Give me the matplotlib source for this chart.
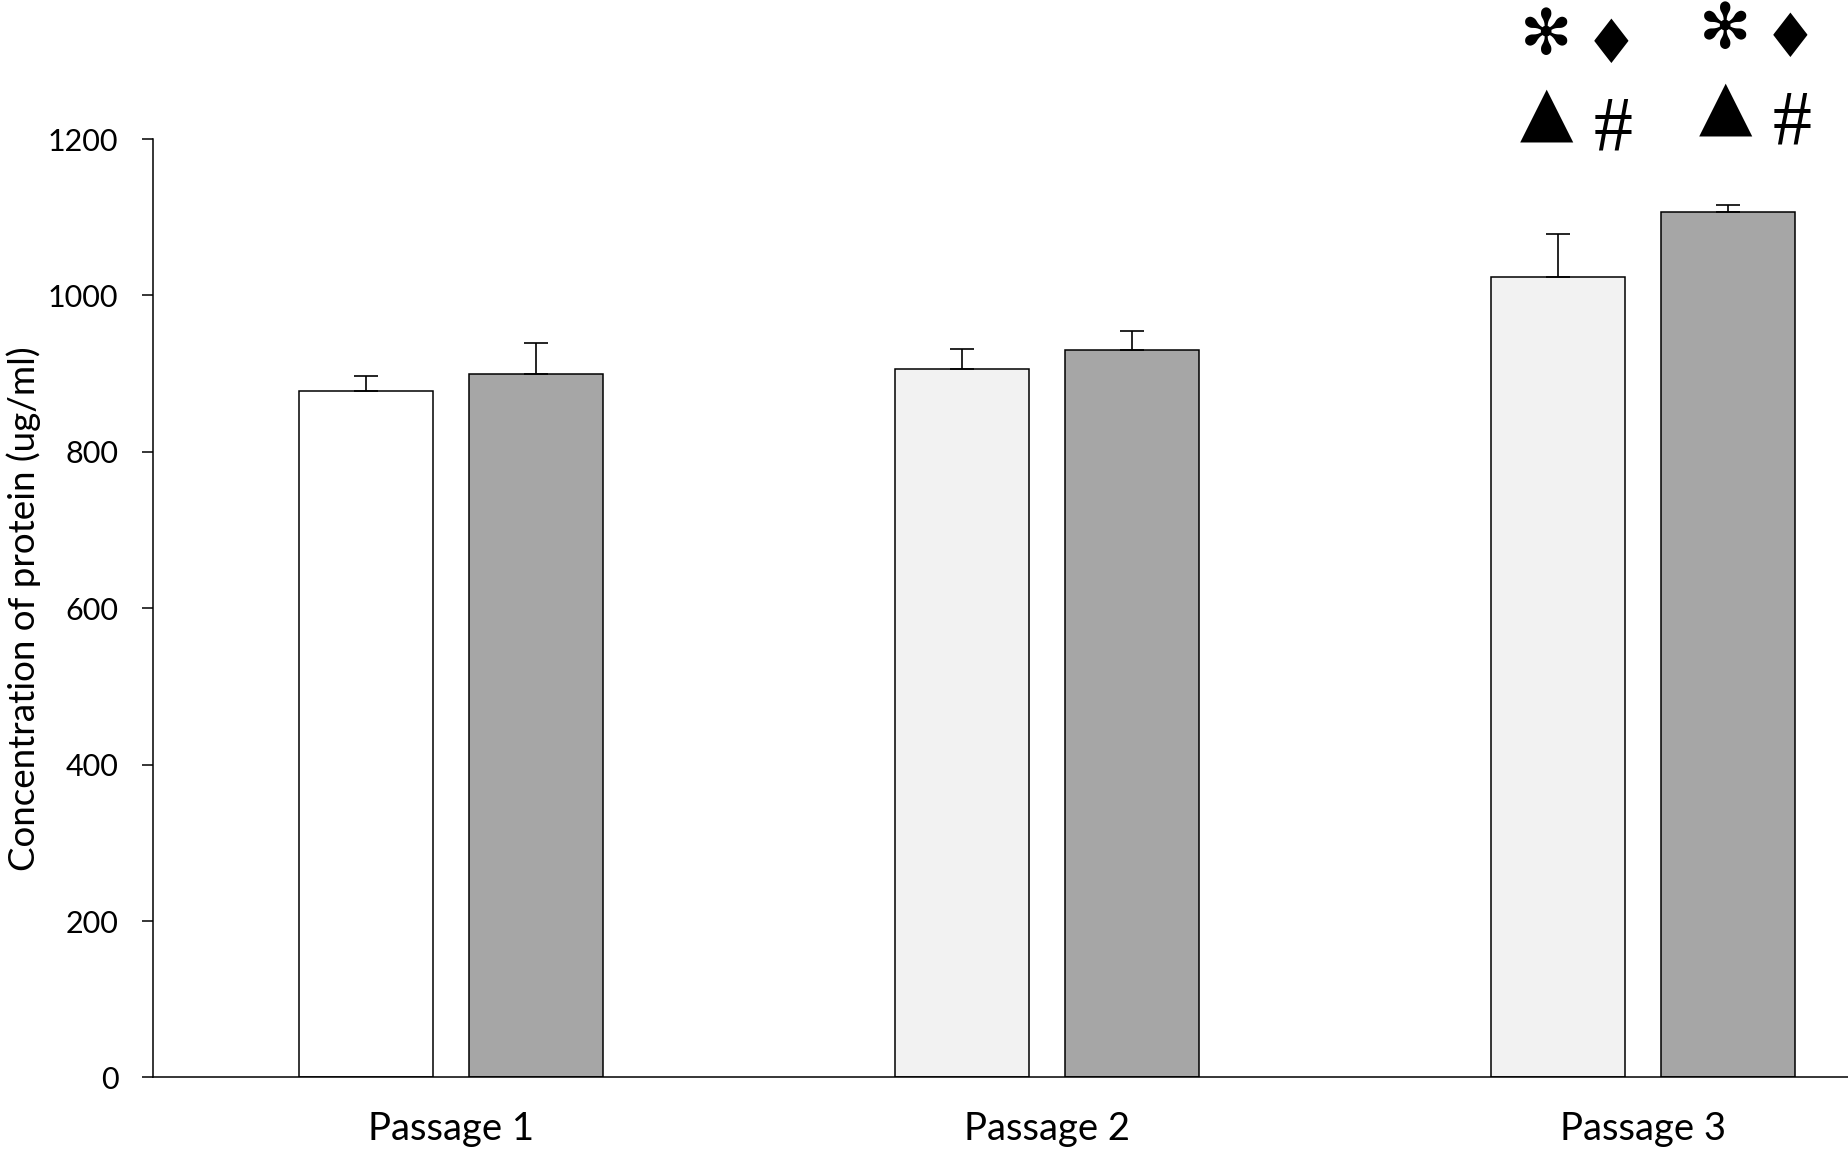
"""
Protein concentration per passage, two groups, with significance symbols.
"""

import matplotlib.pyplot as plt
import numpy as np

# data
passages = ["Passage 1", "Passage 2", "Passage 3"]
group_a = [878, 906, 1023]
group_a_err = [19, 25, 55]
group_b = [899, 930, 1107]
group_b_err = [40, 24, 9]
group_a_colors = ["#ffffff", "#f2f2f2", "#f2f2f2"]
group_b_color = "#a6a6a6"
y_ticks = [0, 200, 400, 600, 800, 1000, 1200]

# significance marks on passage 3 (both bars)
sig_top = ["\u273b", "\u2666"]
sig_bottom = ["\u25b2", "#"]

plt.rcParams["font.family"] = ["Lato", "DejaVu Sans"]

fig = plt.figure(figsize=(18.48, 11.51), dpi=100)
ax = fig.add_axes([0.0828, 0.0639, 0.9172, 0.8153])

x = np.arange(len(passages))
width = 0.224
offset = 0.1423

ax.bar(x - offset, group_a, width, color=group_a_colors, edgecolor="black", linewidth=1.1, zorder=2)
ax.bar(x + offset, group_b, width, color=group_b_color, edgecolor="black", linewidth=1.1, zorder=2)

# upper error bars only
ax.errorbar(x - offset, group_a, yerr=[np.zeros(3), group_a_err], fmt="none",
            ecolor="black", elinewidth=1.2, capsize=8.5, capthick=1.2, zorder=3)
ax.errorbar(x + offset, group_b, yerr=[np.zeros(3), group_b_err], fmt="none",
            ecolor="black", elinewidth=1.2, capsize=8.5, capthick=1.2, zorder=3)

# symbols above passage 3 bars (small nudge per bar, as in the original)
for bx, dx, dy in [(x[2] - offset, -0.020, 0), (x[2] + offset, -0.004, 8)]:
    bx = bx + dx
    ax.text(bx, 1330 + dy, sig_top[0], fontsize=45, ha="center", va="center",
            family="DejaVu Sans", clip_on=False)
    ax.text(bx + 0.108, 1318 + dy, sig_top[1], fontsize=44, ha="center", va="center",
            family="DejaVu Sans", clip_on=False)
    ax.text(bx, 1232 + dy, sig_bottom[0], fontsize=50, ha="center", va="center",
            family="DejaVu Sans", clip_on=False)
    ax.text(bx + 0.112, 1210 + dy, sig_bottom[1], fontsize=56, ha="center", va="center",
            family="Liberation Serif", clip_on=False)

ax.set_xlim(-0.5, 2.344)
ax.set_ylim(0, 1200)
ax.set_xticks(x)
ax.set_xticklabels(passages, fontsize=27.5)
ax.set_yticks(y_ticks)
ax.tick_params(axis="y", labelsize=22, length=8, width=1.1, pad=17, direction="out")
ax.tick_params(axis="x", length=0, pad=24)

for side in ["top", "right"]:
    ax.spines[side].set_visible(False)
ax.spines["left"].set_linewidth(1.1)
ax.spines["bottom"].set_linewidth(1.1)

ax.set_ylabel("Concentration of protein (ug/ml)", fontsize=26.5)
ax.yaxis.set_label_coords(-0.066, 0.5)

plt.savefig("out.png", dpi=100)
